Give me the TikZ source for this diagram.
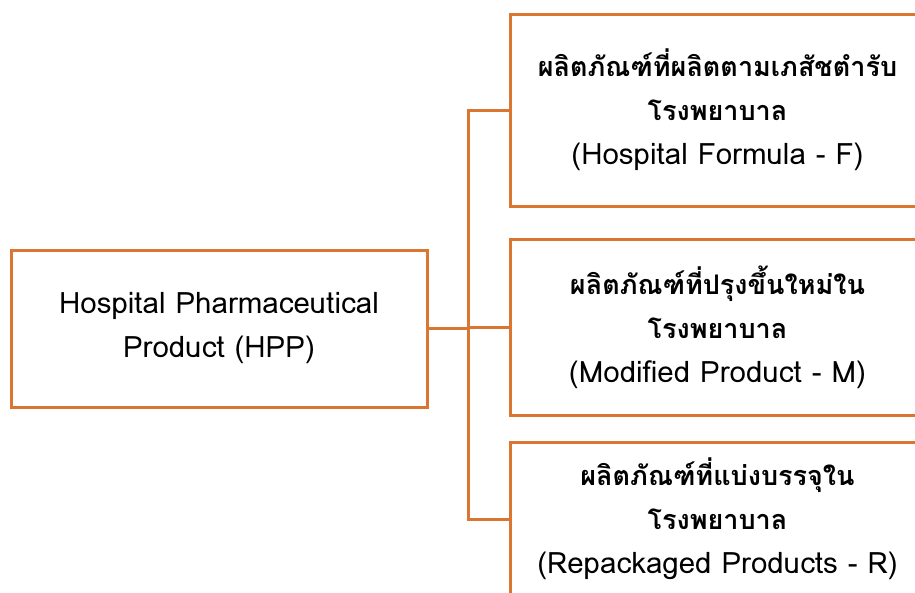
\documentclass[tikz,border=0pt]{standalone}
\usepackage{fontspec}
\setmainfont[Script=Thai]{Loma}
\definecolor{boxorange}{RGB}{218,118,50}
\newcommand{\thl}[1]{{\fontsize{27}{44}\selectfont\bfseries #1}}
\begin{document}
\begin{tikzpicture}[x=1pt,y=-1pt,
  box/.style={draw=boxorange, line width=3pt, fill=white, align=center, inner sep=0pt,
    font=\fontsize{29.5}{44}\selectfont},
  conn/.style={draw=boxorange, line width=3pt}]
\useasboundingbox (0,0) rectangle (915,592);
\clip (0,0) rectangle (915,592);
\node[box, minimum width=416pt, minimum height=157pt] (hpp) at (219,328.5)
  {Hospital Pharmaceutical\\Product (HPP)};
\node[box, minimum width=415pt, minimum height=192pt] (f) at (717.5,110)
  {\thl{ผลิตภัณฑ์ที่ผลิตตามเภสัชตำรับ}\\\thl{โรงพยาบาล}\\(Hospital Formula - F)};
\node[box, minimum width=415pt, minimum height=176pt] (m) at (717.5,327)
  {\thl{ผลิตภัณฑ์ที่ปรุงขึ้นใหม่ใน}\\\thl{โรงพยาบาล}\\(Modified Product - M)};
\node[box, minimum width=415pt, minimum height=154pt] (r) at (717.5,519)
  {\thl{ผลิตภัณฑ์ที่แบ่งบรรจุใน}\\\thl{โรงพยาบาล}\\(Repackaged Products - R)};
\coordinate (tx) at (468,0);
\draw[conn] (hpp.east) -- (hpp.east -| tx);
\draw[conn] (f.west) -- (f.west -| tx) -- (r.west -| tx) -- (r.west);
\draw[conn] (m.west -| tx) -- (m.west);
\end{tikzpicture}
\end{document}
